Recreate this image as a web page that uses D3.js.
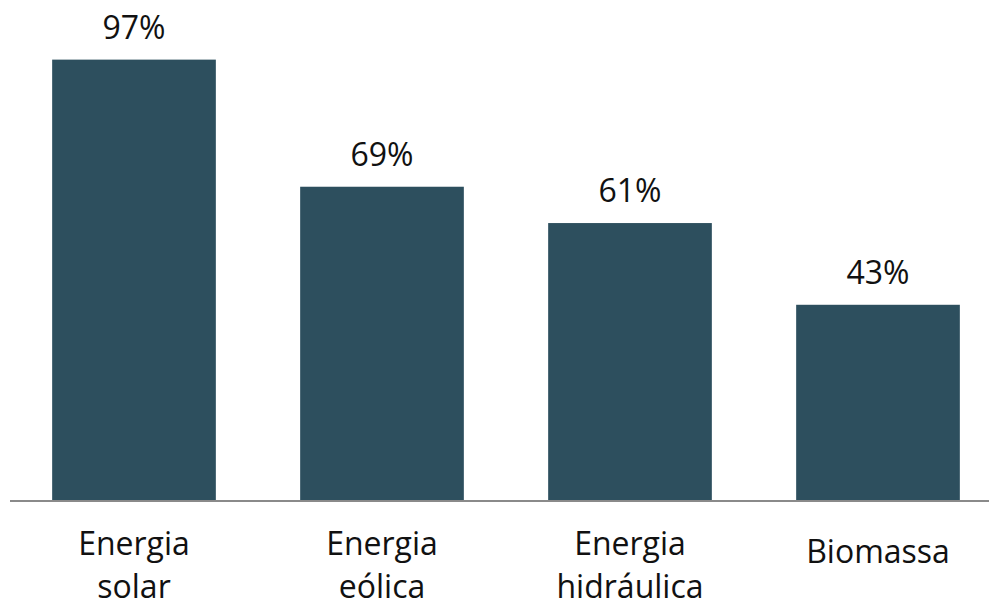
<!DOCTYPE html>
<html lang="pt">
<head>
<meta charset="UTF-8">
<title>Energia</title>
<script src="https://cdn.jsdelivr.net/npm/d3@7"></script>
<style>
  body { margin: 0; background: #fff; }
  text { font-family: "Open Sans", Lato, sans-serif; fill: #111; }
</style>
</head>
<body>
<div id="chart"></div>
<script>
var categories = ["Energia solar", "Energia eólica", "Energia hidráulica", "Biomassa"];
var labelLines = [["Energia", "solar"], ["Energia", "eólica"], ["Energia", "hidráulica"], ["Biomassa"]];
var values = [97, 69, 61, 43]; // porcentagem

var width = 989, height = 603;
var baseY = 500;

var svg = d3.select("#chart").append("svg")
  .attr("width", width)
  .attr("height", height);

var x = d3.scaleBand()
  .domain(categories)
  .range([10, 1002])
  .paddingInner(0.34)
  .paddingOuter(0.17);

var y = d3.scaleLinear()
  .domain([0, 100])
  .range([baseY, 46]);

// barras
svg.selectAll("rect.bar")
  .data(values)
  .enter().append("rect")
  .attr("class", "bar")
  .attr("x", function(d, i) { return x(categories[i]); })
  .attr("y", function(d) { return y(d); })
  .attr("width", x.bandwidth())
  .attr("height", function(d) { return y(0) - y(d); })
  .attr("fill", "#2d4f5e");

// eixo
svg.append("line")
  .attr("x1", 10).attr("x2", width)
  .attr("y1", baseY + 1).attr("y2", baseY + 1)
  .attr("stroke", "#8a8a8a")
  .attr("stroke-width", 2);

// rótulos de valor
svg.selectAll("text.val")
  .data(values)
  .enter().append("text")
  .attr("class", "val")
  .attr("x", function(d, i) { return x(categories[i]) + x.bandwidth() / 2; })
  .attr("y", function(d) { return y(d) - 21; })
  .attr("text-anchor", "middle")
  .attr("font-size", 32)
  .text(function(d) { return d + "%"; });

// rótulos de categoria
var cat = svg.selectAll("text.cat")
  .data(labelLines)
  .enter().append("text")
  .attr("class", "cat")
  .attr("text-anchor", "middle")
  .attr("font-size", 32)
  .attr("transform", function(d, i) {
    var cx = x(categories[i]) + x.bandwidth() / 2;
    var cy = d.length > 1 ? 555 : 563;
    return "translate(" + cx + "," + cy + ")";
  });

cat.selectAll("tspan")
  .data(function(d) { return d; })
  .enter().append("tspan")
  .attr("x", 0)
  .attr("y", function(d, j) { return j * 43; })
  .text(function(d) { return d; });
</script>
</body>
</html>
